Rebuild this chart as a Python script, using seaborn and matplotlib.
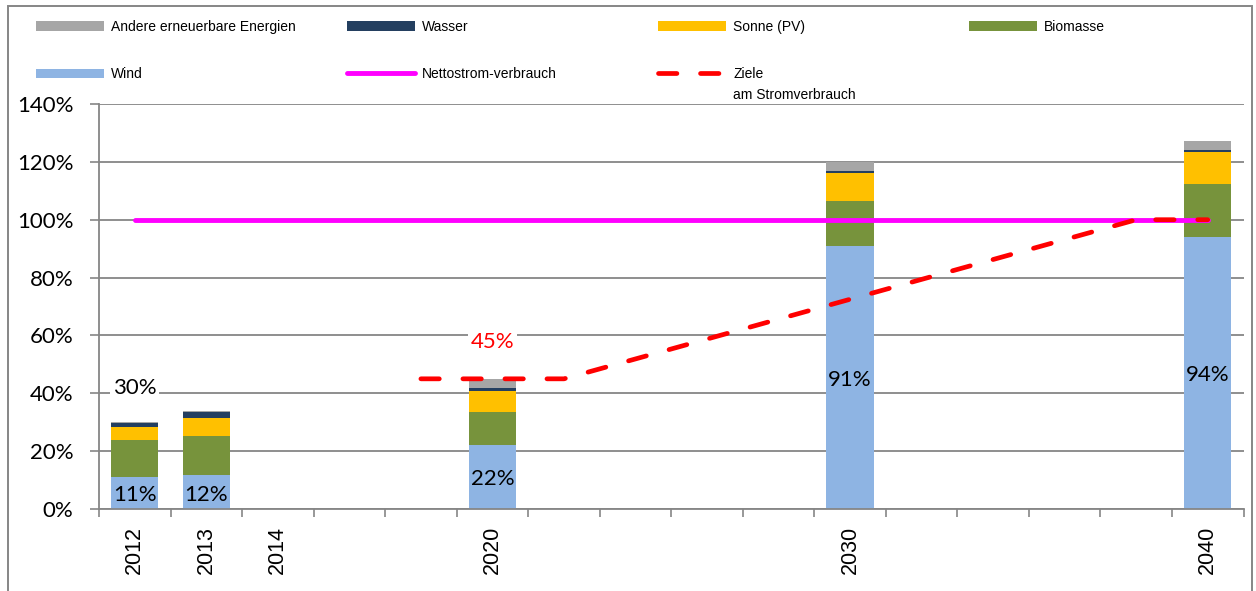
import matplotlib
matplotlib.use("Agg")
import matplotlib.pyplot as plt
import pandas as pd
import seaborn as sns
from matplotlib.lines import Line2D
from matplotlib.patches import Patch, Rectangle

# x-axis slots (blank slots keep the time spacing between 2014 and 2040)
axis_slots = ["2012", "2013", "2014", "", "", "2020", "", "", "", "",
              "2030", "", "", "", "", "2040"]

# share of renewable sources in net electricity consumption (%)
years = ["2012", "2013", "2020", "2030", "2040"]
wind = [11.0, 11.6, 22.0, 91.0, 94.0]
biomasse = [13.0, 13.8, 11.7, 15.5, 18.3]
sonne = [4.2, 5.9, 7.2, 9.7, 11.1]
wasser = [1.5, 2.3, 0.8, 0.6, 0.8]
andere = [0.3, 0.3, 3.3, 3.2, 3.1]

# net consumption reference line (%)
netto_years = ["2012", "2040"]
netto_values = [100, 100]

# target path (slot index on the x axis, %)
ziele_slots = [4, 5, 6, 14, 15]
ziele_values = [45, 45, 45, 100, 100]

GRID = "#868686"
C_ANDERE = "#A6A6A6"
C_WASSER = "#243F60"
C_SONNE = "#FFC000"
C_BIO = "#77933C"
C_WIND = "#8EB4E3"
C_NETTO = "#FF00FF"
C_ZIELE = "#FF0000"

W, H = 1256, 591
fig = plt.figure(figsize=(W / 100, H / 100), dpi=100)
ax = fig.add_axes([99 / W, 1 - 509 / H, (1243.5 - 99) / W, (509 - 104) / H])

df = pd.DataFrame({"year": years, "Wind": wind, "Biomasse": biomasse,
                   "Sonne": sonne, "Wasser": wasser, "Andere": andere})
df["pos"] = [axis_slots.index(y) for y in years]

# stacked bars: draw cumulative totals from the top segment downwards
stack = [("Wind", C_WIND), ("Biomasse", C_BIO), ("Sonne", C_SONNE),
         ("Wasser", C_WASSER), ("Andere", C_ANDERE)]
cum = df[[s for s, _ in stack]].cumsum(axis=1)
for name, color in reversed(stack):
    sns.barplot(x=df["pos"], y=cum[name], native_scale=True, width=0.66,
                color=color, saturation=1, errorbar=None, linewidth=0,
                ax=ax, zorder=2)

# net consumption line
netto_pos = [axis_slots.index(y) for y in netto_years]
sns.lineplot(x=netto_pos, y=netto_values, color=C_NETTO, lw=3.5, ax=ax,
             zorder=3, solid_capstyle="round")

# target line
sns.lineplot(x=ziele_slots, y=ziele_values, color=C_ZIELE, lw=3.4, ax=ax,
             zorder=4, dashes=False)
zline = ax.lines[-1]
zline.set_dashes((3.9, 5.0))
zline.set_dash_capstyle("round")

# value labels
lab_font = dict(family="Lato", fontsize=16)
for _, r in df.iterrows():
    ax.text(r["pos"], r["Wind"] / 2 - 0.8, f"{r['Wind']:.0f}%", ha="center",
            va="center", color="black", zorder=5, **lab_font)
total_2012 = cum.iloc[0]["Andere"]
ax.text(axis_slots.index("2012"), 42, f"{total_2012:.0f}%", ha="center",
        va="center", color="black", zorder=5,
        bbox=dict(fc="white", ec="none", pad=2), **lab_font)
ziel_2020 = ziele_values[ziele_slots.index(axis_slots.index("2020"))]
ax.text(axis_slots.index("2020"), 57.7, f"{ziel_2020:.0f}%", ha="center",
        va="center", color=C_ZIELE, zorder=5,
        bbox=dict(fc="white", ec="none", pad=2), **lab_font)

# axes styling
ax.set_xlim(-0.5, len(axis_slots) - 0.5)
ax.set_ylim(0, 140)
ax.set_yticks(range(0, 141, 20))
ax.set_yticklabels([f"{v}%" for v in range(0, 141, 20)], family="Lato",
                   fontsize=16)
ax.set_xticks(range(len(axis_slots)))
ax.set_xticklabels(axis_slots, rotation=90, family="Liberation Sans",
                   fontsize=15.5)
ax.set_xticks([i - 0.5 for i in range(len(axis_slots) + 1)], minor=True)
ax.tick_params(axis="x", which="major", length=0, pad=12)
ax.tick_params(axis="x", which="minor", length=5.5, width=1.2, color=GRID)
ax.tick_params(axis="y", length=6.5, width=1.2, color=GRID, pad=12)
ax.set_xlabel("")
ax.set_ylabel("")
ax.yaxis.grid(True, color=GRID, lw=1.3, zorder=0)
ax.xaxis.grid(False)
ax.set_axisbelow(True)
for s in ["top", "right"]:
    ax.spines[s].set_visible(False)
for s in ["left", "bottom"]:
    ax.spines[s].set_color(GRID)
    ax.spines[s].set_linewidth(1.3)

# legend, laid out in four columns
leg_size = 10
leg_font = dict(family="Liberation Sans", size=leg_size)
fs_px = leg_size * 100 / 72
h_andere = Patch(fc=C_ANDERE, ec="none", label="Andere erneuerbare Energien")
h_wasser = Patch(fc=C_WASSER, ec="none", label="Wasser")
h_sonne = Patch(fc=C_SONNE, ec="none", label="Sonne (PV)")
h_bio = Patch(fc=C_BIO, ec="none", label="Biomasse")
h_wind = Patch(fc=C_WIND, ec="none", label="Wind")
h_netto = Line2D([], [], color=C_NETTO, lw=3.5, solid_capstyle="round",
                 label="Nettostrom-verbrauch")
h_ziele = Line2D([], [], color=C_ZIELE, lw=3.4, dashes=(3.9, 5.0),
                 dash_capstyle="round", label="Ziele")
columns = [(36, [h_andere, h_wind]), (347, [h_wasser, h_netto]),
           (658, [h_sonne, h_ziele]), (969, [h_bio])]
for x_px, handles in columns:
    fig.legend(handles=handles, loc="upper left",
               bbox_to_anchor=(x_px / W, 1 - 20 / H), frameon=False,
               borderpad=0, borderaxespad=0, prop=leg_font,
               handlelength=68 / fs_px, handleheight=0.7,
               handletextpad=7 / fs_px, labelspacing=2.4)
fig.text(733 / W, 1 - 95 / H, "am Stromverbrauch", ha="left", va="center",
         fontfamily="Liberation Sans", fontsize=leg_size)

# outer chart frame
fig.patches.append(Rectangle((8 / W, -0.05), (1252 - 8) / W, 1.05 - 6 / H,
                             transform=fig.transFigure, fill=False,
                             ec=GRID, lw=1.4, clip_on=False))

fig.savefig("out.png", dpi=100)
